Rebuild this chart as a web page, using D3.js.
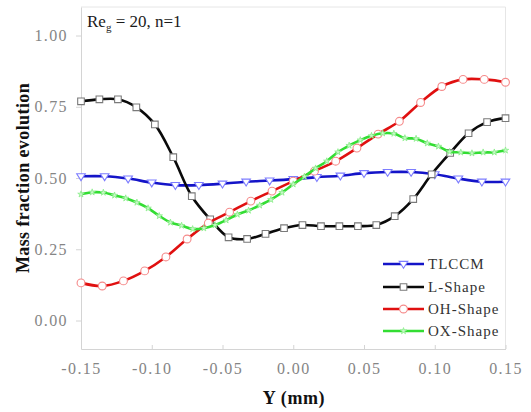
<!DOCTYPE html>
<html>
<head>
<meta charset="utf-8">
<script src="https://cdn.jsdelivr.net/npm/d3@7/dist/d3.min.js"></script>
<style>
  html, body { margin: 0; padding: 0; background: #fff; }
  svg { display: block; }
</style>
</head>
<body>
<svg id="chart" width="531" height="412"></svg>
<script>
// Y position across the channel (mm) for each series' sampling
const xTLCCM = [-0.15, -0.1333, -0.1167, -0.1, -0.0833, -0.0667, -0.05, -0.0333, -0.0167, 0,
  0.0167, 0.0333, 0.05, 0.0667, 0.0833, 0.1, 0.1167, 0.1333, 0.15];
const yTLCCM = [0.506, 0.506, 0.498, 0.484, 0.475, 0.475, 0.480, 0.487, 0.491, 0.496,
  0.503, 0.508, 0.517, 0.521, 0.521, 0.513, 0.498, 0.487, 0.487];

const xLShape = [-0.15, -0.137, -0.1239, -0.1109, -0.0978, -0.0848, -0.0717, -0.0587, -0.0457, -0.0326,
  -0.0196, -0.0065, 0.0065, 0.0196, 0.0326, 0.0457, 0.0587, 0.0717, 0.0848, 0.0978,
  0.1109, 0.1239, 0.137, 0.15];
const yLShape = [0.769, 0.776, 0.776, 0.748, 0.688, 0.573, 0.436, 0.355, 0.292, 0.286,
  0.304, 0.324, 0.335, 0.331, 0.331, 0.331, 0.335, 0.366, 0.426, 0.513,
  0.588, 0.657, 0.696, 0.710];

const xOHShape = [-0.15, -0.135, -0.12, -0.105, -0.09, -0.075, -0.06, -0.045, -0.03, -0.015,
  0, 0.015, 0.03, 0.045, 0.06, 0.075, 0.09, 0.105, 0.12, 0.135, 0.15];
const yOHShape = [0.132, 0.121, 0.139, 0.174, 0.223, 0.286, 0.342, 0.380, 0.419, 0.454,
  0.489, 0.524, 0.559, 0.605, 0.654, 0.699, 0.765, 0.821, 0.846, 0.846, 0.836];

const xOXShape = [-0.15, -0.1421, -0.1342, -0.1263, -0.1184, -0.1105, -0.1026, -0.0947, -0.0868, -0.0789,
  -0.0711, -0.0632, -0.0553, -0.0474, -0.0395, -0.0316, -0.0237, -0.0158, -0.0079, 0,
  0.0079, 0.0158, 0.0237, 0.0316, 0.0395, 0.0474, 0.0553, 0.0632, 0.0711, 0.0789,
  0.0868, 0.0947, 0.1026, 0.1105, 0.1184, 0.1263, 0.1342, 0.1421, 0.15];
const yOXShape = [0.443, 0.450, 0.449, 0.439, 0.429, 0.414, 0.394, 0.367, 0.344, 0.333,
  0.321, 0.324, 0.335, 0.352, 0.372, 0.386, 0.404, 0.424, 0.449, 0.478,
  0.505, 0.534, 0.559, 0.591, 0.614, 0.633, 0.648, 0.657, 0.656, 0.640,
  0.638, 0.622, 0.611, 0.592, 0.590, 0.587, 0.590, 0.590, 0.597];

const xTicks = [-0.15, -0.10, -0.05, 0.00, 0.05, 0.10, 0.15];
const yTicks = [0.00, 0.25, 0.50, 0.75, 1.00];
const seriesNames = ["TLCCM", "L-Shape", "OH-Shape", "OX-Shape"];

const series = [
  { name: seriesNames[0], xs: xTLCCM, ys: yTLCCM, color: "#1414c8", mstroke: "#7d7dff", mfill: "#ffffff", symbol: "tri", msize: 4.3, mw: 1.1 },
  { name: seriesNames[1], xs: xLShape, ys: yLShape, color: "#0a0a0a", mstroke: "#7a7a7a", mfill: "#ffffff", symbol: d3.symbolSquare, msize: 44, mw: 1.1 },
  { name: seriesNames[2], xs: xOHShape, ys: yOHShape, color: "#e01010", mstroke: "#f58a8a", mfill: "#ffffff", symbol: d3.symbolCircle, msize: 48, mw: 1.1 },
  { name: seriesNames[3], xs: xOXShape, ys: yOXShape, color: "#33dd33", mstroke: "#8aee8a", mfill: "#c8f8c8", symbol: d3.symbolStar, msize: 13, mw: 0.8 }
];

const svg = d3.select("#chart");
const plotLeft = 81, plotRight = 505.5, plotTop = 7, plotBottom = 349;

const x = d3.scaleLinear().domain([-0.15, 0.15]).range([plotLeft, plotRight]);
const y = d3.scaleLinear().domain([-0.1, 1.1]).range([plotBottom, plotTop]);

const serif = "'Liberation Serif', 'Times New Roman', serif";
const frameColor = "#d4d4d4";

// Frame: top and right borders
svg.append("line").attr("x1", plotLeft).attr("x2", plotRight).attr("y1", plotTop).attr("y2", plotTop)
  .attr("stroke", "#e6e6e6").attr("stroke-width", 1);
svg.append("line").attr("x1", plotRight).attr("x2", plotRight).attr("y1", plotTop).attr("y2", plotBottom)
  .attr("stroke", "#e6e6e6").attr("stroke-width", 1);

// Bottom axis (ticks pointing into the plot)
const gx = svg.append("g").attr("transform", `translate(0,${plotBottom})`)
  .call(d3.axisBottom(x).tickValues(xTicks).tickFormat(d3.format(".2f"))
    .tickSizeInner(-4).tickSizeOuter(0).tickPadding(14));
gx.select(".domain").attr("stroke", frameColor);
gx.selectAll(".tick line").attr("stroke", frameColor);
gx.selectAll(".tick text").attr("fill", "#858585").attr("font-family", serif)
  .attr("font-size", 16).attr("letter-spacing", "1.4px")
  .text(d => d3.format(".2f")(d).replace("−", "-"));

// Left axis (ticks pointing outwards)
const gy = svg.append("g").attr("transform", `translate(${plotLeft},0)`)
  .call(d3.axisLeft(y).tickValues(yTicks).tickFormat(d3.format(".2f"))
    .tickSizeInner(5).tickSizeOuter(0).tickPadding(8));
gy.select(".domain").attr("stroke", frameColor);
gy.selectAll(".tick line").attr("stroke", frameColor);
gy.selectAll(".tick text").attr("fill", "#858585").attr("font-family", serif)
  .attr("font-size", 16).attr("letter-spacing", "1.4px");

// Axis titles
svg.append("text").attr("x", 294).attr("y", 404).attr("text-anchor", "middle")
  .attr("font-family", serif).attr("font-weight", "bold").attr("font-size", 18)
  .attr("letter-spacing", "0.6px").attr("fill", "#111").text("Y (mm)");
svg.append("text").attr("transform", "translate(29,178) rotate(-90)").attr("text-anchor", "middle")
  .attr("font-family", serif).attr("font-weight", "bold").attr("font-size", 18)
  .attr("letter-spacing", "0.4px").attr("fill", "#111").text("Mass fraction evolution");

// Annotation in the top-left corner
const note = svg.append("text").attr("x", 87).attr("y", 27)
  .attr("font-family", serif).attr("font-size", 17).attr("fill", "#1a1a1a");
note.append("tspan").text("Re");
note.append("tspan").attr("font-size", 11).attr("dy", 4).text("g");
note.append("tspan").attr("dy", -4).text(" = 20, n=1");

// Marker drawing helper
function drawMarker(g, s, cx, cy) {
  if (s.symbol === "tri") {
    const r = s.msize;
    g.append("path")
      .attr("d", `M${cx - r},${cy - r * 0.6}L${cx + r},${cy - r * 0.6}L${cx},${cy + r * 1.0}Z`)
      .attr("fill", s.mfill).attr("stroke", s.mstroke).attr("stroke-width", s.mw);
  } else {
    g.append("path")
      .attr("d", d3.symbol().type(s.symbol).size(s.msize)())
      .attr("transform", `translate(${cx},${cy})`)
      .attr("fill", s.mfill).attr("stroke", s.mstroke).attr("stroke-width", s.mw);
  }
}

const line = d3.line().x(d => x(d[0])).y(d => y(d[1])).curve(d3.curveCatmullRom.alpha(0.5));

const plot = svg.append("g");
series.forEach(s => {
  const pts = s.xs.map((v, i) => [v, s.ys[i]]);
  const g = plot.append("g");
  g.append("path").datum(pts).attr("d", line)
    .attr("fill", "none").attr("stroke", s.color).attr("stroke-width", 2.6);
  pts.forEach(p => drawMarker(g, s, x(p[0]), y(p[1])));
});

// Legend
const legY = [264, 287, 309, 331];
series.forEach((s, i) => {
  const g = svg.append("g");
  const ly = legY[i];
  g.append("line").attr("x1", 383).attr("x2", 424).attr("y1", ly).attr("y2", ly)
    .attr("stroke", s.color).attr("stroke-width", 2.6);
  drawMarker(g, s, 403.5, ly);
  g.append("text").attr("x", 428).attr("y", ly + 5)
    .attr("font-family", serif).attr("font-size", 15).attr("letter-spacing", "1px")
    .attr("fill", "#333").text(s.name);
});
</script>
</body>
</html>
